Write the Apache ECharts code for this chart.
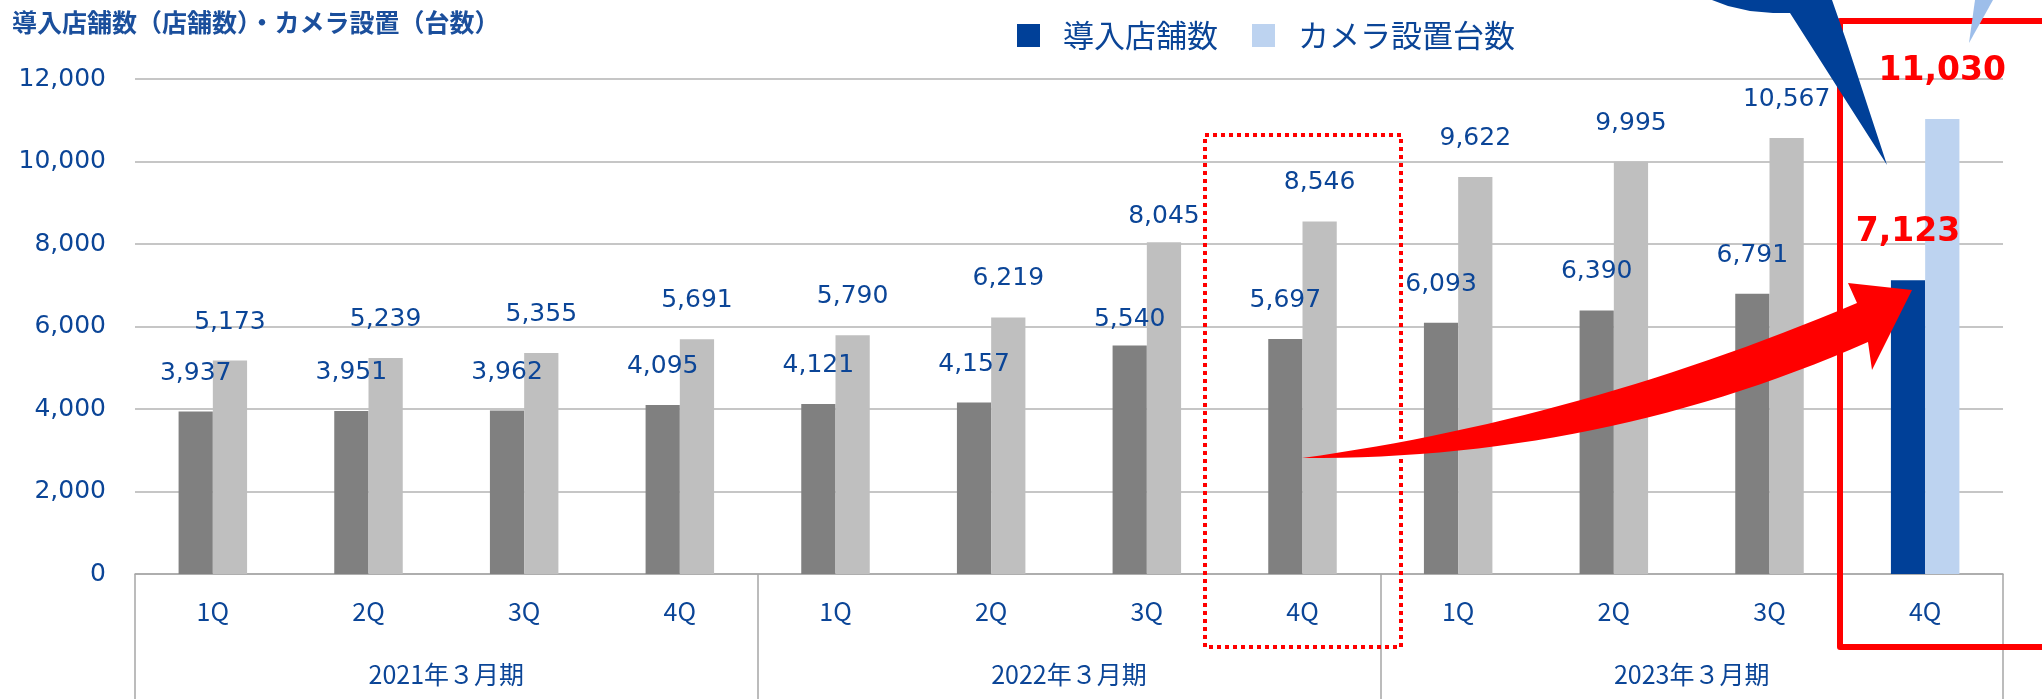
<!DOCTYPE html>
<html>
<head>
<meta charset="utf-8">
<script src="https://cdn.jsdelivr.net/npm/echarts@6/dist/echarts.min.js"></script>
<style>
  html, body { margin: 0; padding: 0; background: #fff; }
  #chart { width: 2042px; height: 699px; }
</style>
</head>
<body>
<div id="chart"></div>
<script>
// 四半期ラベルと決算期
var quarters = ['1Q', '2Q', '3Q', '4Q', '1Q', '2Q', '3Q', '4Q', '1Q', '2Q', '3Q', '4Q'];
var fiscalYears = ['2021年３月期', '2022年３月期', '2023年３月期'];
// 導入店舗数 / カメラ設置台数
var storeCounts = [3937, 3951, 3962, 4095, 4121, 4157, 5540, 5697, 6093, 6390, 6791, 7123];
var cameraCounts = [5173, 5239, 5355, 5691, 5790, 6219, 8045, 8546, 9622, 9995, 10567, 11030];
var yTicks = [0, 2000, 4000, 6000, 8000, 10000, 12000];

var NAVY = '#004098';
var LIGHT_BLUE = '#BDD3F0';
var TEXT_BLUE = '#0B4597';
var RED = '#FF0000';
var latest = storeCounts.length - 1;

function fmt(v) {
  return Number(v).toLocaleString('en-US');
}

// 最新期だけ色付き、他はグレー
function makeData(values, grey, hi) {
  return values.map(function (v, i) {
    var item = { value: v, itemStyle: { color: i === latest ? hi : grey } };
    if (i === latest) {
      item.label = { color: RED, fontSize: 33, fontWeight: 'bold', distance: 31 };
    } else if (i === 6) {
      item.label = { distance: 13 };
    }
    return item;
  });
}

// 曲線矢印（装飾）
function quad(p0, p1, p2, n) {
  var pts = [];
  for (var k = 0; k <= n; k++) {
    var t = k / n, a = (1 - t) * (1 - t), b = 2 * t * (1 - t), c = t * t;
    pts.push([a * p0[0] + b * p1[0] + c * p2[0], a * p0[1] + b * p1[1] + c * p2[1]]);
  }
  return pts;
}
var tail = [1302, 458];
var topEdge = quad(tail, [1580, 420], [1857, 303], 30);
var bottomEdge = quad(tail, [1600, 460], [1868, 342], 30).reverse();
var arrowPts = topEdge.concat([[1848, 283], [1912, 290], [1872, 370]], bottomEdge);

var chart = echarts.init(document.getElementById('chart'));

var labelBase = {
  show: true,
  position: 'top',
  distance: 26,
  color: TEXT_BLUE,
  fontSize: 25,
  fontFamily: 'DejaVu Sans',
  formatter: function (p) { return fmt(p.value); }
};

chart.setOption({
  animation: false,
  title: {
    text: '導入店舗数（店舗数）・カメラ設置（台数）',
    left: 12,
    top: 10,
    padding: 0,
    textStyle: { fontSize: 25, fontWeight: 'bold', color: '#1B4F9C', fontFamily: 'Noto Sans CJK JP' }
  },
  legend: {
    left: 1017,
    top: 20,
    padding: 0,
    itemWidth: 23,
    itemHeight: 23,
    itemGap: 34,
    icon: 'rect',
    textStyle: {
      fontSize: 31,
      lineHeight: 31,
      color: TEXT_BLUE,
      fontFamily: 'Noto Sans CJK JP',
      padding: [0, 0, 0, 18]
    },
    data: ['導入店舗数', 'カメラ設置台数']
  },
  grid: { left: 135, right: 39, top: 79, bottom: 125 },
  xAxis: [
    {
      type: 'category',
      data: quarters,
      position: 'bottom',
      axisLine: { lineStyle: { color: '#A6A6A6', width: 1.5 } },
      axisTick: { show: false },
      axisLabel: { margin: 25, fontSize: 25, color: TEXT_BLUE, fontFamily: 'Noto Sans CJK JP' }
    },
    {
      type: 'category',
      data: fiscalYears,
      position: 'bottom',
      axisLine: { show: false },
      axisTick: { show: true, length: 130, interval: 0, lineStyle: { color: '#A6A6A6', width: 1.5 } },
      axisLabel: { margin: 88, fontSize: 25, color: TEXT_BLUE, fontFamily: 'Noto Sans CJK JP' },
      splitLine: { show: false }
    }
  ],
  yAxis: {
    type: 'value',
    min: yTicks[0],
    max: yTicks[yTicks.length - 1],
    interval: yTicks[1] - yTicks[0],
    axisLine: { show: false },
    axisTick: { show: false },
    axisLabel: {
      margin: 29,
      fontSize: 25,
      color: TEXT_BLUE,
      fontFamily: 'DejaVu Sans',
      formatter: fmt
    },
    splitLine: { lineStyle: { color: '#B3B3B3', width: 1.5 } }
  },
  series: [
    {
      name: '導入店舗数',
      type: 'bar',
      xAxisIndex: 0,
      barGap: '0%',
      barCategoryGap: '56%',
      itemStyle: { color: NAVY },
      label: labelBase,
      data: makeData(storeCounts, '#808080', NAVY)
    },
    {
      name: 'カメラ設置台数',
      type: 'bar',
      xAxisIndex: 0,
      barGap: '0%',
      barCategoryGap: '56%',
      itemStyle: { color: LIGHT_BLUE },
      label: labelBase,
      data: makeData(cameraCounts, '#BFBFBF', LIGHT_BLUE)
    }
  ],
  graphic: [
    {
      type: 'rect',
      z: 100,
      shape: { x: 1205, y: 135, width: 196, height: 512 },
      style: { fill: null, stroke: RED, lineWidth: 4, lineDash: [4, 4] }
    },
    {
      type: 'polyline',
      z: 100,
      shape: { points: [[2060, 21], [1840, 21], [1840, 647], [2060, 647]] },
      style: { stroke: RED, lineWidth: 6, lineJoin: 'round', fill: null }
    },
    {
      type: 'polygon',
      z: 101,
      shape: { points: arrowPts },
      style: { fill: RED }
    },
    {
      type: 'polygon',
      z: 101,
      shape: { points: [[1712, 0], [1728, 6], [1750, 11], [1773, 13], [1790, 13], [1887, 165], [1846, 40], [1832, 0]] },
      style: { fill: NAVY }
    },
    {
      type: 'polygon',
      z: 101,
      shape: { points: [[1975, 0], [1993, 0], [1969, 43]] },
      style: { fill: '#9DBEEA' }
    }
  ]
});
</script>
</body>
</html>
